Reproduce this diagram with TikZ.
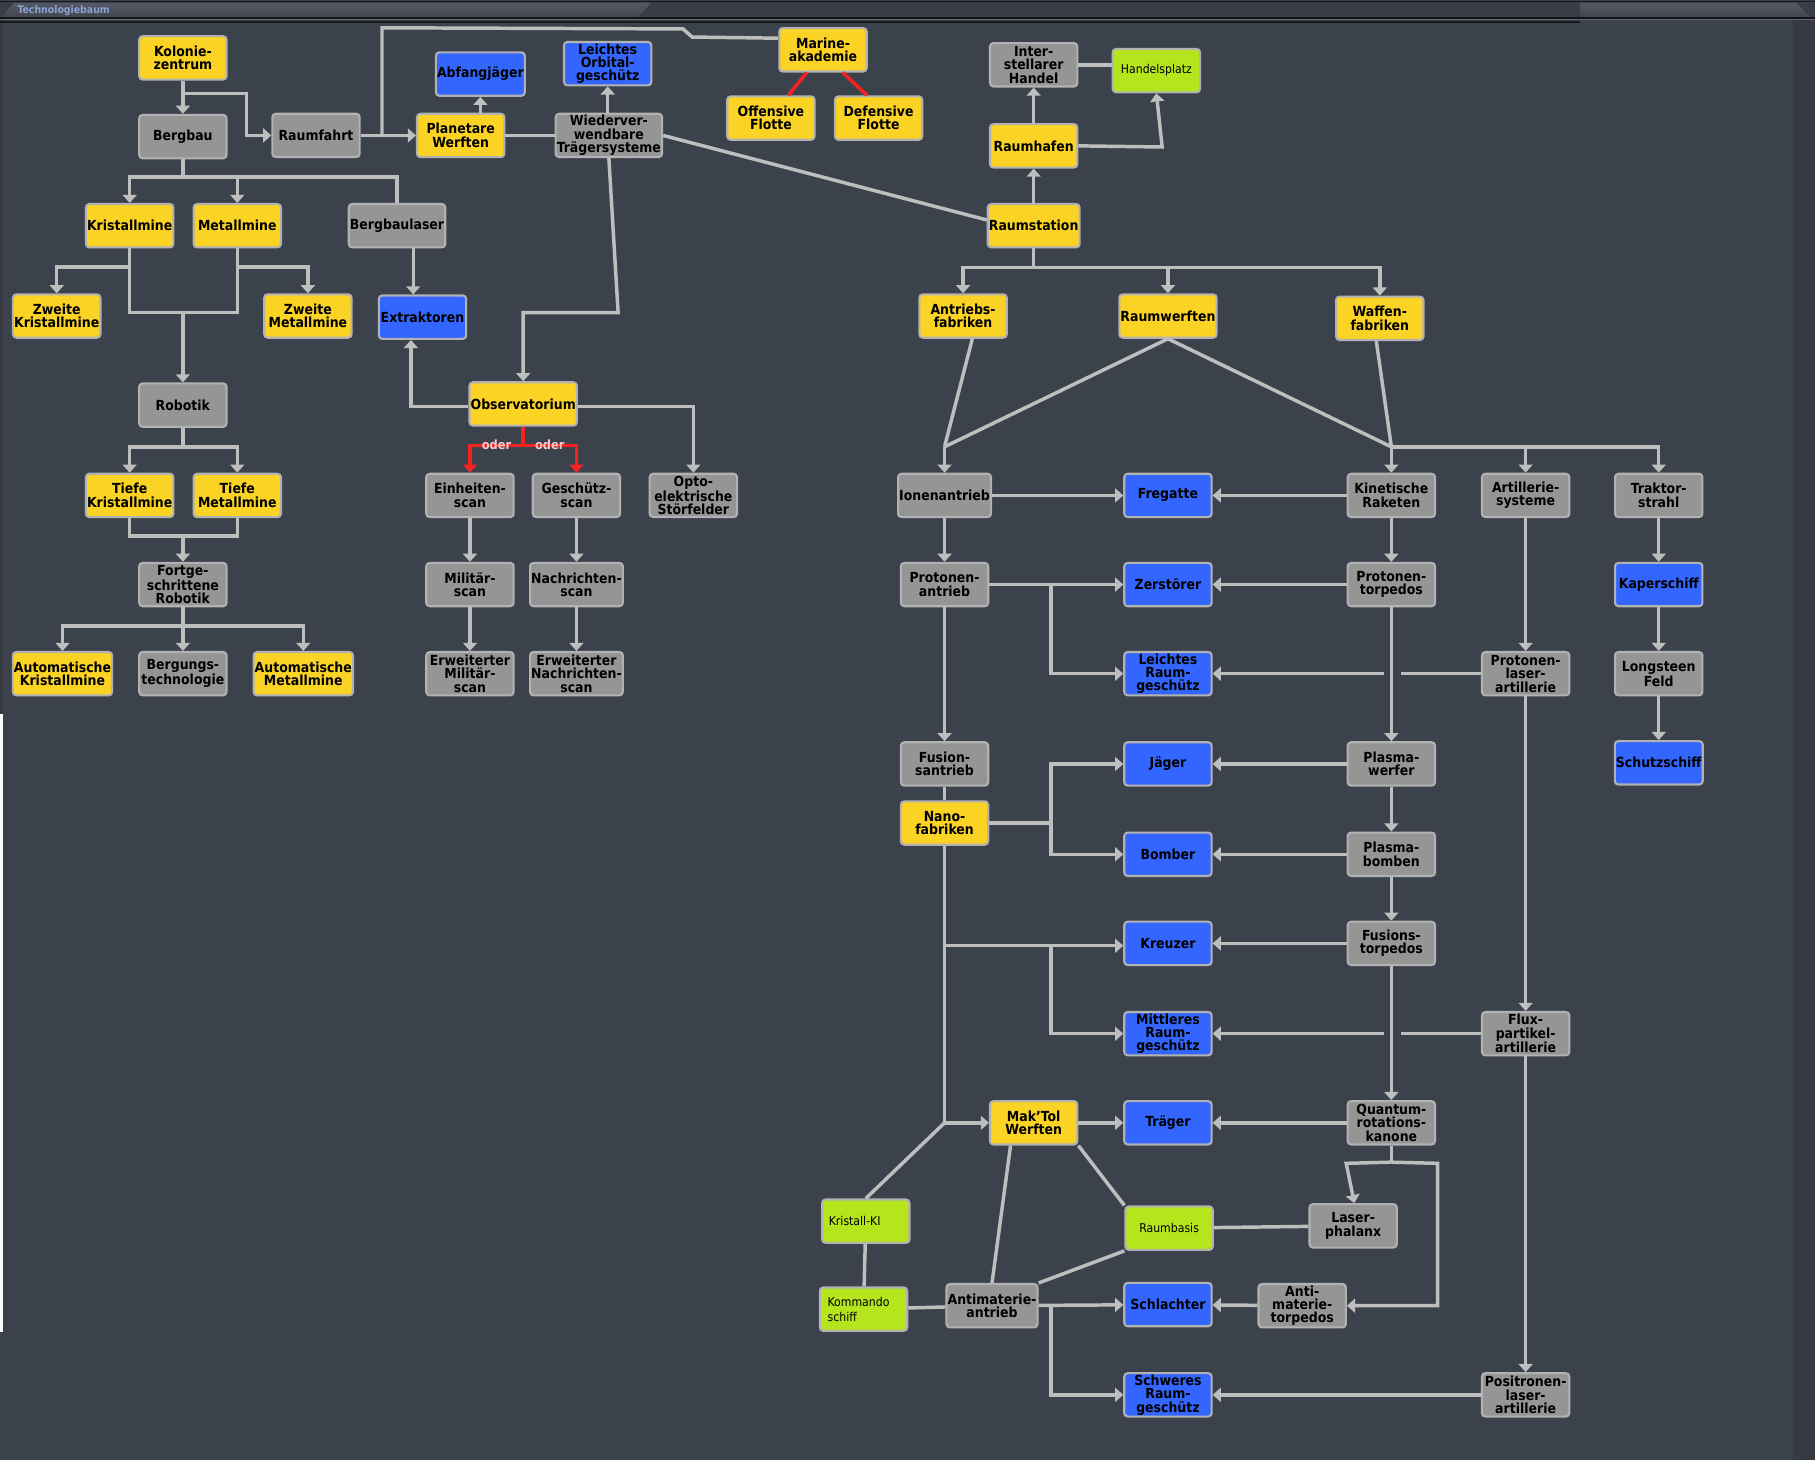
\documentclass[tikz,border=0pt]{standalone}
\usepackage{fontspec}
\setmainfont{DejaVu Sans Condensed}
\usetikzlibrary{arrows.meta,positioning}

\definecolor{bg}{HTML}{3C424C}
\definecolor{bgdark}{HTML}{363A43}
\definecolor{barband}{HTML}{393D46}
\definecolor{tabtop}{HTML}{545965}
\definecolor{tabbot}{HTML}{414650}
\definecolor{tyel}{HTML}{FBD324}
\definecolor{tgray}{HTML}{959595}
\definecolor{tblue}{HTML}{3366FF}
\definecolor{tgreen}{HTML}{B5E51D}
\definecolor{rim}{HTML}{B2B2B2}
\definecolor{wire}{HTML}{BEBEBE}
\definecolor{orwire}{HTML}{F52222}
\definecolor{ortext}{HTML}{FFC8C8}
\definecolor{titletext}{HTML}{8DA3D6}

\tikzset{
  tech/.style={draw=rim, line width=1.8pt, rounded corners=3pt, minimum width=75.5pt,
    minimum height=37.5pt, inner sep=1pt, align=center, text=black,
    font=\bfseries\fontsize{12}{11.6}\selectfont},
  yel/.style={tech, fill=tyel},
  gr/.style={tech, fill=tgray},
  blu/.style={tech, fill=tblue},
  grn/.style={tech, fill=tgreen, font=\fontsize{10.5}{13}\selectfont},
  wide/.style={minimum width=91pt},
  auto/.style={minimum width=85pt},
  link/.style={draw=wire, line width=3pt},
  arr/.style={link, -{Triangle[width=12pt,length=7pt]}},
  orlink/.style={draw=orwire, line width=3pt},
  orarr/.style={orlink, -{Triangle[width=12pt,length=7pt]}},
  orlabel/.style={text=ortext, inner sep=0pt, font=\bfseries\fontsize{11}{12}\selectfont},
}

\begin{document}
\begin{tikzpicture}[x=1pt, y=-1pt]
  \useasboundingbox (0,0) rectangle (1568,1261);
  % backdrop and title bar
  \fill[bg] (0,0) rectangle (1568,1261);
  \fill[bgdark] (1549,17) rectangle (1568,1261);
  \fill[white] (0,617) rectangle (2.6,1151);
  \fill[bgdark] (0,17) rectangle (2.6,617);
  \fill[barband] (0,0) rectangle (1568,16);
  \fill[top color=tabtop, bottom color=tabbot] (0,15) -- (12,2) -- (563,2) -- (552,15) -- cycle;
  \fill[top color=tabtop, bottom color=tabbot] (1365,2) -- (1552,2) -- (1565,15) -- (1365,15) -- cycle;
  \draw[black!60!bg, line width=1pt] (0,1) -- (1568,1);
  \draw[black!70!bg, line width=1pt] (0,15.5) -- (1568,15.5);
  \draw[bg!80!white, line width=1.2pt] (0,17) -- (1568,17);
  \draw[black!60!bg, line width=1pt] (0,19) -- (1365,19);
  \node[text=titletext, font=\bfseries\fontsize{9}{10}\selectfont, anchor=west, inner sep=0pt] (title) at (15,9) {Technologiebaum};

  % left tree
  \node[yel] (kz) at (158,50) {Kolonie-\\zentrum};
  \node[gr] (bb) at (158,118) {Bergbau};
  \node[gr] (rf) at (273,117) {Raumfahrt};
  \node[yel] (pw) at (398,117) {Planetare\\Werften};
  \node[blu] (aj) at (415,64) {Abfangjäger};
  \node[blu] (log) at (525,55) {Leichtes\\Orbital-\\geschütz};
  \node[gr, wide] (wts) at (526,117) {Wiederver-\\wendbare\\Trägersysteme};
  \node[yel] (ma) at (711,43) {Marine-\\akademie};
  \node[yel] (of) at (666,102) {Offensive\\Flotte};
  \node[yel] (df) at (759,102) {Defensive\\Flotte};
  \node[gr] (ih) at (893,56) {Inter-\\stellarer\\Handel};
  \node[grn] (hp) at (999,61) {Handelsplatz};
  \node[yel] (rh) at (893,126) {Raumhafen};
  \node[yel] (rs) at (893,195) {Raumstation};
  \node[yel] (km) at (112,195) {Kristallmine};
  \node[yel] (mm) at (205,195) {Metallmine};
  \node[gr] (bbl) at (343,195) {Bergbaulaser};
  \node[yel] (zk) at (49,273) {Zweite\\Kristallmine};
  \node[yel] (zm) at (266,273) {Zweite\\Metallmine};
  \node[blu] (ex) at (365,274) {Extraktoren};
  \node[gr] (rob) at (158,350) {Robotik};
  \node[yel, wide] (obs) at (452,349) {Observatorium};
  \node[yel] (tk) at (112,428) {Tiefe\\Kristallmine};
  \node[yel] (tm) at (205,428) {Tiefe\\Metallmine};
  \node[gr] (es) at (406,428) {Einheiten-\\scan};
  \node[gr] (gs) at (498,428) {Geschütz-\\scan};
  \node[gr] (os) at (599,428) {Opto-\\elektrische\\Störfelder};
  \node[gr] (fr) at (158,505) {Fortge-\\schrittene\\Robotik};
  \node[gr] (ms) at (406,505) {Militär-\\scan};
  \node[gr] (ns) at (498,505) {Nachrichten-\\scan};
  \node[yel, auto] (ak) at (54,582) {Automatische\\Kristallmine};
  \node[gr] (bt) at (158,582) {Bergungs-\\technologie};
  \node[yel, auto] (am) at (262,582) {Automatische\\Metallmine};
  \node[gr] (ems) at (406,582) {Erweiterter\\Militär-\\scan};
  \node[gr] (ens) at (498,582) {Erweiterter\\Nachrichten-\\scan};

  % right tree
  \node[yel] (af) at (832,273) {Antriebs-\\fabriken};
  \node[yel] (rw) at (1009,273) {Raumwerften};
  \node[yel] (wf) at (1192,275) {Waffen-\\fabriken};
  \node[gr] (ion) at (816,428) {Ionenantrieb};
  \node[blu] (fg) at (1009,428) {Fregatte};
  \node[gr] (kr) at (1202,428) {Kinetische\\Raketen};
  \node[gr] (as) at (1318,428) {Artillerie-\\systeme};
  \node[gr] (ts) at (1433,428) {Traktor-\\strahl};
  \node[gr] (pa) at (816,505) {Protonen-\\antrieb};
  \node[blu] (zs) at (1009,505) {Zerstörer};
  \node[gr] (pt) at (1202,505) {Protonen-\\torpedos};
  \node[blu] (ks) at (1433,505) {Kaperschiff};
  \node[blu] (lrg) at (1009,582) {Leichtes\\Raum-\\geschütz};
  \node[gr] (pla) at (1318,582) {Protonen-\\laser-\\artillerie};
  \node[gr] (lf) at (1433,582) {Longsteen\\Feld};
  \node[gr] (fa) at (816,660) {Fusion-\\santrieb};
  \node[blu] (jg) at (1009,660) {Jäger};
  \node[gr] (pwf) at (1202,660) {Plasma-\\werfer};
  \node[blu] (sch) at (1433,659) {Schutzschiff};
  \node[yel] (nf) at (816,711) {Nano-\\fabriken};
  \node[blu] (bo) at (1009,738) {Bomber};
  \node[gr] (pb) at (1202,738) {Plasma-\\bomben};
  \node[blu] (krz) at (1009,815) {Kreuzer};
  \node[gr] (ft) at (1202,815) {Fusions-\\torpedos};
  \node[blu] (mrg) at (1009,893) {Mittleres\\Raum-\\geschütz};
  \node[gr] (fpa) at (1318,893) {Flux-\\partikel-\\artillerie};
  \node[yel] (mtw) at (893,970) {Mak'Tol\\Werften};
  \node[blu] (tr) at (1009,970) {Träger};
  \node[gr] (qrk) at (1202,970) {Quantum-\\rotations-\\kanone};
  \node[grn, text width=64pt, align=left] (kki) at (748,1055) {Kristall-KI};
  \node[grn] (rb) at (1010,1061) {Raumbasis};
  \node[gr] (lp) at (1169,1059) {Laser-\\phalanx};
  \node[grn, text width=62pt, align=left] (kos) at (746,1131) {Kommando\\schiff};
  \node[gr] (ama) at (857,1128) {Antimaterie-\\antrieb};
  \node[blu] (sl) at (1009,1127) {Schlachter};
  \node[gr] (amt) at (1125,1128) {Anti-\\materie-\\torpedos};
  \node[blu] (srg) at (1009,1205) {Schweres\\Raum-\\geschütz};
  \node[gr] (ppa) at (1318,1205) {Positronen-\\laser-\\artillerie};

  % junctions
  \coordinate (b1) at (158,153);
  \coordinate (o1) at (452,385);
  \coordinate (r1) at (158,386);
  \coordinate (f1) at (158,541);
  \coordinate (s1) at (893,231);
  \coordinate (ij) at (816,386);
  \coordinate (kj) at (1202,386);
  \coordinate (p1) at (908,505);
  \coordinate (n1) at (908,711);
  \coordinate (n2) at (816,817);
  \coordinate (n3) at (908,817);
  \coordinate (m1) at (816,970);
  \coordinate (q1) at (1202,1004);
  \coordinate (a1) at (908,1128);

  % left connectors
  \draw[arr] (kz) -- (bb);
  \draw[arr] (158,81) -- (213,81) -- (213,117) -- (rf);
  \draw[arr] (rf) -- (pw);
  \draw[link] (330,117) -- (330,24) -- (590,25) -- (598,32) -- (672,33);
  \draw[arr] (pw.north -| aj) -- (aj);
  \draw[link] (pw) -- (wts);
  \draw[arr] (wts.north -| log) -- (log);
  \draw[link] (wts.east) -- ([yshift=5pt]rs.west);
  \draw[arr] (wts.south) -- (534,270) -- (obs.north |- 0,270) -- (obs);
  \draw[link] (bb) -- (b1);
  \draw[arr] (b1) -| (km);
  \draw[arr] (b1) -| (mm);
  \draw[link] (b1) -| (bbl.north);
  \draw[arr] (km.south) -- ++(0,16) -| (zk);
  \draw[arr] (mm.south) -- ++(0,16) -| (zm);
  \draw[link] (km.south) |- (205,270) -- (mm.south);
  \draw[arr] (158,270) -- (rob);
  \draw[arr] ([xshift=14pt]bbl.south) -- ([xshift=-8pt]ex.north);
  \draw[arr] ([yshift=-2pt]obs.west) -| ([xshift=-10pt]ex.south);
  \draw[orlink] (obs.south) -- (o1);
  \draw[orarr] (o1) -| (es);
  \draw[orarr] (o1) -| (gs);
  \node[orlabel] (or1) at (429,384) {oder};
  \node[orlabel] (or2) at (475,384) {oder};
  \draw[arr] ([yshift=-2pt]obs.east) -| (os);
  \draw[link] (rob) -- (r1);
  \draw[arr] (r1) -| (tk);
  \draw[arr] (r1) -| (tm);
  \draw[link] (tk.south) |- (205,463) -- (tm.south);
  \draw[arr] (158,463) -- (fr);
  \draw[link] (fr) -- (f1);
  \draw[arr] (f1) -| (ak);
  \draw[arr] (f1) -- (bt);
  \draw[arr] (f1) -| (am);
  \draw[arr] (es) -- (ms);
  \draw[arr] (ms) -- (ems);
  \draw[arr] (gs) -- (ns);
  \draw[arr] (ns) -- (ens);
  \draw[orlink] ([xshift=-14pt]ma.south) -- ([xshift=15pt]of.north);
  \draw[orlink] ([xshift=17pt]ma.south) -- ([xshift=-10pt]df.north);

  % right connectors
  \draw[arr] (rh) -- (ih);
  \draw[arr] (rh.east) -- (1004,127) -- (hp.south);
  \draw[link] (ih.east) -- (ih.east -| hp.west);
  \draw[arr] (rs) -- (rh);
  \draw[link] (rs) -- (s1);
  \draw[arr] (s1) -| (af);
  \draw[arr] (s1) -| (rw);
  \draw[arr] (s1) -| (wf);
  \draw[link] ([xshift=8pt]af.south) -- (ij);
  \draw[link] (rw.south) -- (ij);
  \draw[link] (rw.south) -- (kj);
  \draw[link] ([xshift=-3pt]wf.south) -- (kj);
  \draw[arr] (ij) -- (ion);
  \draw[arr] (kj) -- (kr);
  \draw[arr] (kj) -| (as);
  \draw[arr] (kj) -| (ts);
  \draw[arr] (ion) -- (fg);
  \draw[arr] (kr) -- (fg);
  \draw[arr] (ion) -- (pa);
  \draw[arr] (kr) -- (pt);
  \draw[arr] (pa) -- (zs);
  \draw[arr] (pt) -- (zs);
  \draw[arr] (p1) |- (lrg);
  \draw[link] (pla) -- (1210,582);
  \draw[arr] (1196,582) -- (lrg);
  \draw[arr] (as) -- (pla);
  \draw[arr] (ts) -- (ks);
  \draw[arr] (ks) -- (lf);
  \draw[arr] (lf) -- (sch);
  \draw[arr] (pt) -- (pwf);
  \draw[arr] (pa) -- (fa);
  \draw[link] (fa) -- (nf);
  \draw[link] (nf) -- (n1);
  \draw[arr] (n1) |- (jg);
  \draw[arr] (n1) |- (bo);
  \draw[arr] (pwf) -- (jg);
  \draw[arr] (pwf) -- (pb);
  \draw[arr] (pb) -- (bo);
  \draw[arr] (pb) -- (ft);
  \draw[arr] (ft) -- (krz);
  \draw[arr] (ft) -- (qrk);
  \draw[link] (nf) -- (m1);
  \draw[arr] (m1) -- (mtw);
  \draw[arr] (n2) -- (n2 -| krz.west);
  \draw[arr] (n3) |- (mrg);
  \draw[link] (fpa) -- (1210,893);
  \draw[arr] (1196,893) -- (mrg);
  \draw[arr] (pla) -- (fpa);
  \draw[arr] (fpa) -- (ppa);
  \draw[arr] (ppa) -- (srg);
  \draw[arr] (mtw) -- (tr);
  \draw[arr] (qrk) -- (tr);
  \draw[link] (qrk) -- (q1);
  \draw[arr] (q1) -- (1163,1005) -- ([xshift=1pt]lp.north);
  \draw[arr] (q1) -- (1242,1005) -- (1242,1128) -- (amt);
  \draw[link] (m1) -- (kki.north);
  \draw[link] (kki) -- (kos);
  \draw[link] (kos) -- (ama);
  \draw[link] ([xshift=-20pt]mtw.south) -- (ama.north);
  \draw[link] (mtw.south east) -- (rb.north west);
  \draw[link] (rb.south west) -- (ama.north east);
  \draw[link] (rb) -- (lp);
  \draw[arr] (ama) -- (sl);
  \draw[arr] (a1) |- (srg);
  \draw[arr] (amt) -- (sl);
\end{tikzpicture}
\end{document}
